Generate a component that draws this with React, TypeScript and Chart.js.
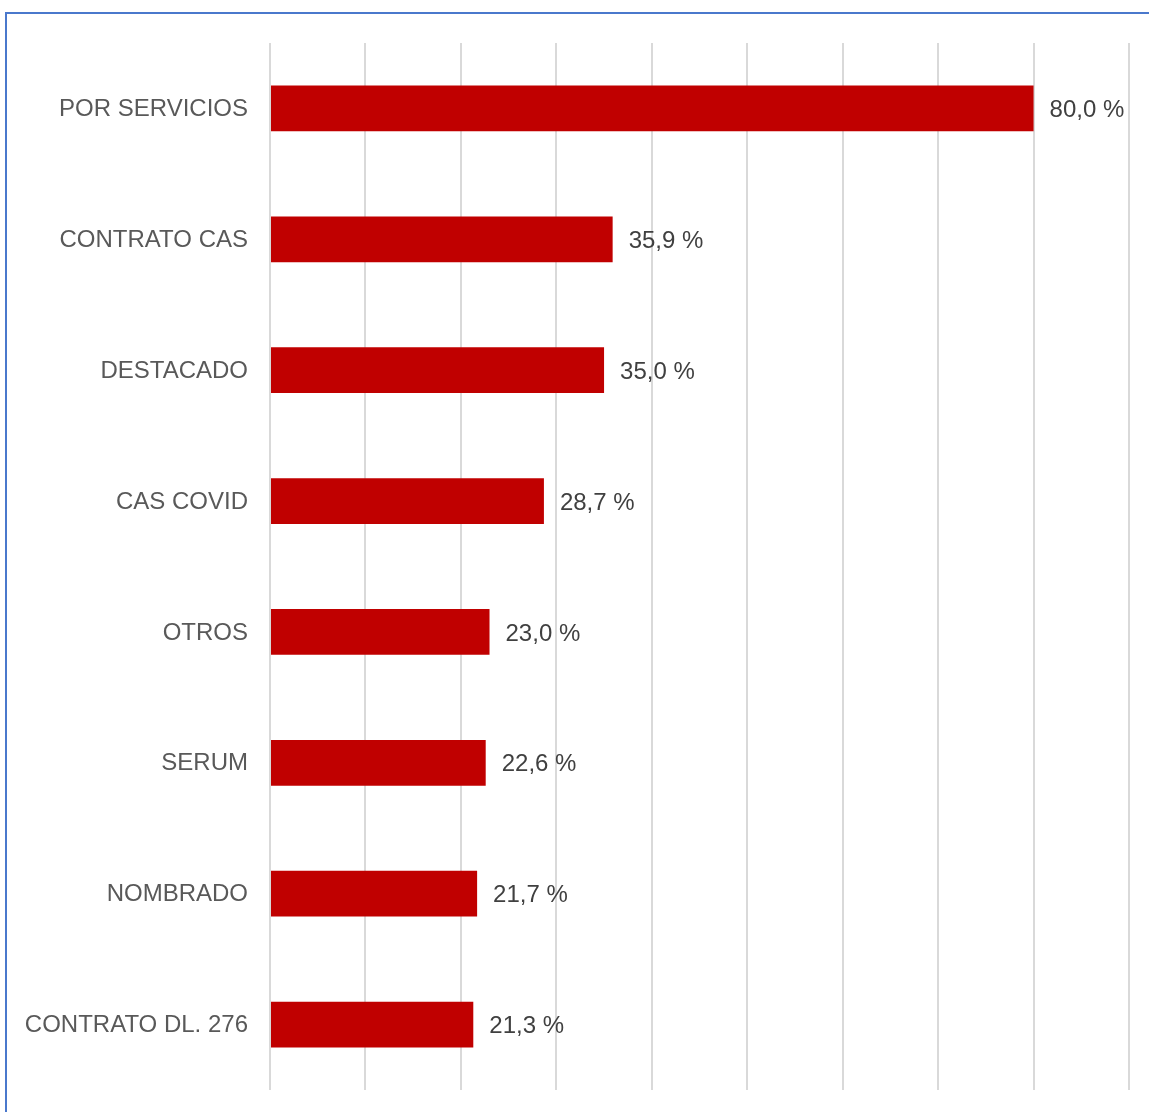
import React, { useEffect, useRef } from "react";
import { Chart, registerables } from "chart.js";

Chart.register(...registerables);

const categories = [
  "POR SERVICIOS",
  "CONTRATO CAS",
  "DESTACADO",
  "CAS COVID",
  "OTROS",
  "SERUM",
  "NOMBRADO",
  "CONTRATO DL. 276",
];
const values = [80.0, 35.9, 35.0, 28.7, 23.0, 22.6, 21.7, 21.3];
const xMin = 0;
const xMax = 90;
const xStep = 10;

const FONT = "'Liberation Sans', Arial, sans-serif";

const dataLabelPlugin = {
  id: "dataLabels",
  afterDatasetsDraw(chart: any) {
    const ctx = chart.ctx;
    const meta = chart.getDatasetMeta(0);
    ctx.save();
    ctx.font = `24px ${FONT}`;
    ctx.fillStyle = "#404040";
    ctx.textAlign = "left";
    ctx.textBaseline = "middle";
    meta.data.forEach((el: any, i: number) => {
      const v = values[i];
      const txt = v.toFixed(1).replace(".", ",") + " %";
      ctx.fillText(txt, el.x + 16, el.y + 2);
    });
    ctx.restore();
  },
};

export default function App() {
  const ref = useRef<HTMLCanvasElement | null>(null);
  useEffect(() => {
    if (!ref.current) return;
    const chart = new Chart(ref.current, {
      type: "bar",
      data: {
        labels: categories,
        datasets: [
          {
            data: values,
            backgroundColor: "#C00000",
            borderWidth: 0,
            barPercentage: 0.35,
            categoryPercentage: 1,
          },
        ],
      },
      options: {
        indexAxis: "y",
        responsive: false,
        animation: false,
        layout: { padding: { top: 43, bottom: 22, right: 20, left: 0 } },
        plugins: {
          legend: { display: false },
          tooltip: { enabled: false },
        },
        scales: {
          x: {
            min: xMin,
            max: xMax,
            ticks: { display: false, stepSize: xStep },
            grid: { color: "#d9d9d9", lineWidth: 2, drawTicks: false },
            border: { display: false },
            afterFit(scale: any) {
              scale.height = 0;
              scale.paddingLeft = 0;
              scale.paddingRight = 0;
            },
          },
          y: {
            ticks: {
              color: "#595959",
              font: { size: 24, family: FONT },
              padding: 22,
              labelOffset: 1,
            },
            grid: { display: false, drawTicks: false },
            border: { display: false },
            afterFit(scale: any) {
              scale.width = 270;
              scale.paddingTop = 0;
              scale.paddingBottom = 0;
            },
          },
        },
      },
      plugins: [dataLabelPlugin],
    } as any);
    return () => chart.destroy();
  }, []);

  return (
    <div>
      <div
        style={{
          position: "fixed",
          left: 5,
          top: 12,
          width: 1400,
          height: 1400,
          border: "2px solid #4a78cc",
          boxSizing: "border-box",
        }}
      />
      <canvas
        ref={ref}
        width={1149}
        height={1112}
        style={{ position: "fixed", left: 0, top: 0, width: 1149, height: 1112 }}
      />
    </div>
  );
}
